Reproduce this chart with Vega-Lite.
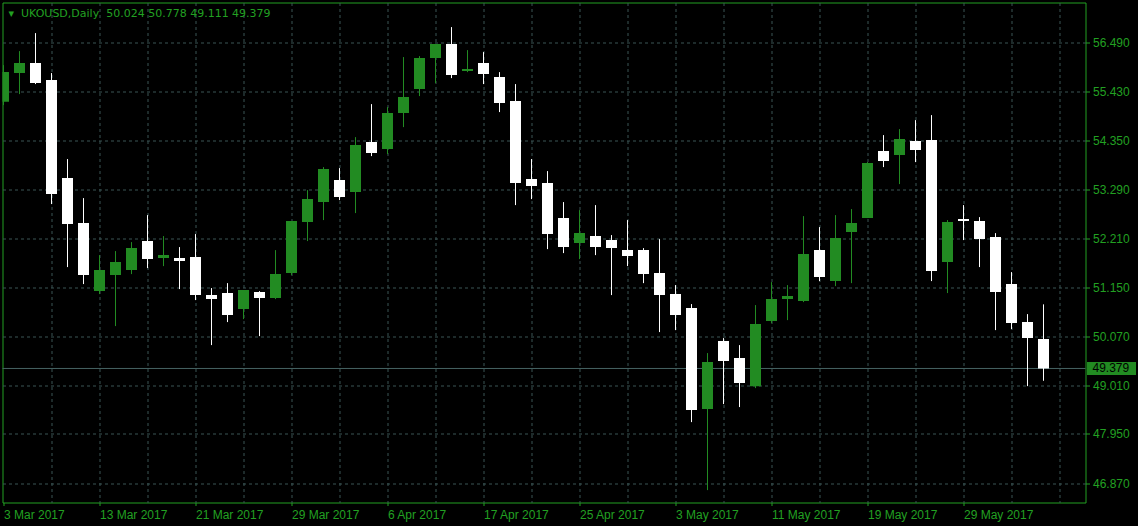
{
  "$schema": "https://vega.github.io/schema/vega-lite/v6.json",
  "width": 1083,
  "height": 500,
  "autosize": {"type": "none"},
  "padding": {"left": 2.5, "top": 2.5, "right": 52.5, "bottom": 23.5},
  "background": "#000000",
  "title": {
    "text": "▾\u00a0\u00a0UKOUSD,Daily\u00a0\u00a050.024\u00a050.778\u00a049.111\u00a049.379",
    "anchor": "start",
    "frame": "group",
    "orient": "top",
    "offset": -16,
    "baseline": "top",
    "dx": 6,
    "font": "DejaVu Sans",
    "fontSize": 11,
    "fontWeight": "normal",
    "color": "#22A022"
  },
  "config": {
    "view": {"stroke": "#22A022", "strokeWidth": 1, "fill": "#000000"}
  },
  "datasets": {
    "candles": [
      {"date": "2017-03-03", "open": 55.196, "high": 55.997, "low": 55.124, "close": 55.844},
      {"date": "2017-03-06", "open": 55.823, "high": 56.302, "low": 55.364, "close": 56.041},
      {"date": "2017-03-07", "open": 56.041, "high": 56.695, "low": 55.583, "close": 55.604},
      {"date": "2017-03-08", "open": 55.670, "high": 55.823, "low": 52.965, "close": 53.183},
      {"date": "2017-03-09", "open": 53.532, "high": 53.947, "low": 51.591, "close": 52.529},
      {"date": "2017-03-10", "open": 52.550, "high": 53.096, "low": 51.220, "close": 51.416},
      {"date": "2017-03-13", "open": 51.067, "high": 51.852, "low": 51.002, "close": 51.525},
      {"date": "2017-03-14", "open": 51.416, "high": 51.940, "low": 50.304, "close": 51.700},
      {"date": "2017-03-15", "open": 51.525, "high": 52.136, "low": 51.438, "close": 52.005},
      {"date": "2017-03-16", "open": 52.158, "high": 52.725, "low": 51.569, "close": 51.765},
      {"date": "2017-03-17", "open": 51.787, "high": 52.267, "low": 51.612, "close": 51.852},
      {"date": "2017-03-20", "open": 51.787, "high": 52.027, "low": 51.111, "close": 51.721},
      {"date": "2017-03-21", "open": 51.809, "high": 52.311, "low": 50.871, "close": 50.980},
      {"date": "2017-03-22", "open": 50.980, "high": 51.133, "low": 49.889, "close": 50.893},
      {"date": "2017-03-23", "open": 51.024, "high": 51.241, "low": 50.391, "close": 50.543},
      {"date": "2017-03-24", "open": 50.674, "high": 51.089, "low": 50.456, "close": 51.089},
      {"date": "2017-03-27", "open": 51.045, "high": 51.067, "low": 50.085, "close": 50.914},
      {"date": "2017-03-28", "open": 50.914, "high": 51.961, "low": 50.893, "close": 51.438},
      {"date": "2017-03-29", "open": 51.460, "high": 52.594, "low": 51.416, "close": 52.594},
      {"date": "2017-03-30", "open": 52.572, "high": 53.270, "low": 52.158, "close": 53.074},
      {"date": "2017-03-31", "open": 53.009, "high": 53.772, "low": 52.616, "close": 53.728},
      {"date": "2017-04-03", "open": 53.488, "high": 53.750, "low": 53.052, "close": 53.118},
      {"date": "2017-04-04", "open": 53.227, "high": 54.426, "low": 52.769, "close": 54.252},
      {"date": "2017-04-05", "open": 54.317, "high": 55.146, "low": 54.012, "close": 54.077},
      {"date": "2017-04-06", "open": 54.165, "high": 55.081, "low": 54.056, "close": 54.950},
      {"date": "2017-04-07", "open": 54.950, "high": 56.172, "low": 54.644, "close": 55.299},
      {"date": "2017-04-10", "open": 55.473, "high": 56.193, "low": 55.321, "close": 56.150},
      {"date": "2017-04-11", "open": 56.150, "high": 56.455, "low": 55.604, "close": 56.455},
      {"date": "2017-04-12", "open": 56.455, "high": 56.826, "low": 55.713, "close": 55.779},
      {"date": "2017-04-13", "open": 55.866, "high": 56.324, "low": 55.844, "close": 55.910},
      {"date": "2017-04-17", "open": 56.041, "high": 56.281, "low": 55.583, "close": 55.801},
      {"date": "2017-04-18", "open": 55.735, "high": 55.844, "low": 54.972, "close": 55.168},
      {"date": "2017-04-19", "open": 55.212, "high": 55.583, "low": 52.943, "close": 53.423},
      {"date": "2017-04-20", "open": 53.510, "high": 53.947, "low": 53.074, "close": 53.357},
      {"date": "2017-04-21", "open": 53.423, "high": 53.685, "low": 51.983, "close": 52.310},
      {"date": "2017-04-24", "open": 52.660, "high": 53.009, "low": 51.896, "close": 52.027},
      {"date": "2017-04-25", "open": 52.114, "high": 52.834, "low": 51.765, "close": 52.332},
      {"date": "2017-04-26", "open": 52.267, "high": 52.943, "low": 51.852, "close": 52.027},
      {"date": "2017-04-27", "open": 52.180, "high": 52.289, "low": 50.980, "close": 52.005},
      {"date": "2017-04-28", "open": 51.961, "high": 52.616, "low": 51.612, "close": 51.830},
      {"date": "2017-05-01", "open": 51.961, "high": 52.005, "low": 51.241, "close": 51.438},
      {"date": "2017-05-02", "open": 51.460, "high": 52.201, "low": 50.173, "close": 50.980},
      {"date": "2017-05-03", "open": 51.002, "high": 51.198, "low": 50.216, "close": 50.543},
      {"date": "2017-05-04", "open": 50.696, "high": 50.784, "low": 48.209, "close": 48.471},
      {"date": "2017-05-05", "open": 48.493, "high": 49.715, "low": 46.726, "close": 49.518},
      {"date": "2017-05-08", "open": 49.976, "high": 50.042, "low": 48.602, "close": 49.540},
      {"date": "2017-05-09", "open": 49.606, "high": 49.889, "low": 48.537, "close": 49.061},
      {"date": "2017-05-10", "open": 48.994, "high": 50.762, "low": 48.951, "close": 50.347},
      {"date": "2017-05-11", "open": 50.413, "high": 51.263, "low": 50.369, "close": 50.893},
      {"date": "2017-05-12", "open": 50.893, "high": 51.198, "low": 50.434, "close": 50.958},
      {"date": "2017-05-15", "open": 50.849, "high": 52.703, "low": 50.827, "close": 51.874},
      {"date": "2017-05-16", "open": 51.961, "high": 52.463, "low": 51.285, "close": 51.373},
      {"date": "2017-05-17", "open": 51.285, "high": 52.725, "low": 51.176, "close": 52.223},
      {"date": "2017-05-18", "open": 52.354, "high": 52.856, "low": 51.241, "close": 52.550},
      {"date": "2017-05-19", "open": 52.660, "high": 53.881, "low": 52.660, "close": 53.859},
      {"date": "2017-05-22", "open": 54.121, "high": 54.470, "low": 53.772, "close": 53.903},
      {"date": "2017-05-23", "open": 54.034, "high": 54.601, "low": 53.401, "close": 54.383},
      {"date": "2017-05-24", "open": 54.339, "high": 54.797, "low": 53.881, "close": 54.143},
      {"date": "2017-05-25", "open": 54.361, "high": 54.906, "low": 51.285, "close": 51.503},
      {"date": "2017-05-26", "open": 51.700, "high": 52.616, "low": 51.024, "close": 52.572},
      {"date": "2017-05-29", "open": 52.638, "high": 52.943, "low": 52.180, "close": 52.594},
      {"date": "2017-05-30", "open": 52.594, "high": 52.681, "low": 51.591, "close": 52.201},
      {"date": "2017-05-31", "open": 52.245, "high": 52.332, "low": 50.216, "close": 51.045},
      {"date": "2017-06-01", "open": 51.220, "high": 51.481, "low": 50.238, "close": 50.369},
      {"date": "2017-06-02", "open": 50.391, "high": 50.565, "low": 48.994, "close": 50.042},
      {"date": "2017-06-05", "open": 50.024, "high": 50.778, "low": 49.111, "close": 49.379}
    ],
    "lastprice": [{"last": 49.379}]
  },
  "layer": [
    {
      "data": {"name": "lastprice"},
      "mark": {"type": "rule", "color": "#456262", "strokeWidth": 1},
      "encoding": {
        "y": {"field": "last", "type": "quantitative", "title": null}
      }
    },
    {
      "data": {"name": "candles"},
      "mark": {"type": "rule", "clip": true, "strokeWidth": 1},
      "encoding": {
        "x": {
          "field": "date",
          "type": "ordinal",
          "sort": null,
          "title": null,
          "scale": {
            "type": "point",
            "domain": ["2017-03-03","2017-03-06","2017-03-07","2017-03-08","2017-03-09","2017-03-10","2017-03-13","2017-03-14","2017-03-15","2017-03-16","2017-03-17","2017-03-20","2017-03-21","2017-03-22","2017-03-23","2017-03-24","2017-03-27","2017-03-28","2017-03-29","2017-03-30","2017-03-31","2017-04-03","2017-04-04","2017-04-05","2017-04-06","2017-04-07","2017-04-10","2017-04-11","2017-04-12","2017-04-13","2017-04-17","2017-04-18","2017-04-19","2017-04-20","2017-04-21","2017-04-24","2017-04-25","2017-04-26","2017-04-27","2017-04-28","2017-05-01","2017-05-02","2017-05-03","2017-05-04","2017-05-05","2017-05-08","2017-05-09","2017-05-10","2017-05-11","2017-05-12","2017-05-15","2017-05-16","2017-05-17","2017-05-18","2017-05-19","2017-05-22","2017-05-23","2017-05-24","2017-05-25","2017-05-26","2017-05-29","2017-05-30","2017-05-31","2017-06-01","2017-06-02","2017-06-05","2017-06-06"],
            "padding": 0.84375,
            "align": 0.037037
          },
          "axis": {
            "orient": "bottom",
            "values": ["2017-03-03","2017-03-08","2017-03-13","2017-03-16","2017-03-21","2017-03-24","2017-03-29","2017-04-03","2017-04-06","2017-04-11","2017-04-17","2017-04-20","2017-04-25","2017-04-28","2017-05-03","2017-05-08","2017-05-11","2017-05-16","2017-05-19","2017-05-24","2017-05-29","2017-06-01","2017-06-06"],
            "grid": true,
            "gridColor": "#3B5555",
            "gridDash": [3, 3],
            "gridWidth": 1,
            "gridOpacity": {"condition": {"test": "datum.value === '2017-03-03'", "value": 0}, "value": 1},
            "domain": false,
            "ticks": true,
            "tickColor": "#22A022",
            "tickSize": 3,
            "tickOpacity": {"condition": {"test": "indexof(['2017-03-03','2017-03-13','2017-03-21','2017-03-29','2017-04-06','2017-04-17','2017-04-25','2017-05-03','2017-05-11','2017-05-19','2017-05-29'], datum.value) >= 0", "value": 1}, "value": 0},
            "labelExpr": "indexof(['2017-03-03','2017-03-13','2017-03-21','2017-03-29','2017-04-06','2017-04-17','2017-04-25','2017-05-03','2017-05-11','2017-05-19','2017-05-29'], datum.value) >= 0 ? utcFormat(toDate(datum.value), '%-d %b %Y') : ''",
            "labelAlign": "left",
            "labelBaseline": "top",
            "labelPadding": 3.5,
            "labelAngle": 0,
            "labelColor": "#22A022",
            "labelFont": "Liberation Sans",
            "labelFontSize": 12,
            "labelOverlap": false,
            "labelBound": false,
            "labelFlush": false
          }
        },
        "y": {
          "field": "low",
          "type": "quantitative",
          "title": null,
          "scale": {"domain": [46.45556, 57.36256], "zero": false, "nice": false},
          "axis": {
            "orient": "right",
            "values": [56.49, 55.43, 54.35, 53.29, 52.21, 51.15, 50.07, 49.01, 47.95, 46.87],
            "format": ".3f",
            "grid": true,
            "gridColor": "#3B5555",
            "gridDash": [3, 3],
            "gridWidth": 1,
            "domain": false,
            "ticks": true,
            "tickColor": "#22A022",
            "tickSize": 4,
            "labelColor": "#22A022",
            "labelFont": "Liberation Sans",
            "labelFontSize": 12,
            "labelPadding": 3,
            "labelAlign": "left",
            "labelBaseline": "middle",
            "labelOverlap": false,
            "labelBound": false,
            "labelFlush": false
          }
        },
        "y2": {"field": "high"},
        "color": {"condition": {"test": "datum.close > datum.open", "value": "#228B22"}, "value": "#FFFFFF"}
      }
    },
    {
      "data": {"name": "candles"},
      "mark": {"type": "bar", "size": 11, "clip": true},
      "encoding": {
        "x": {"field": "date", "type": "ordinal", "sort": null, "title": null},
        "y": {"field": "open", "type": "quantitative", "title": null},
        "y2": {"field": "close"},
        "color": {"condition": {"test": "datum.close > datum.open", "value": "#228B22"}, "value": "#FFFFFF"}
      }
    },
    {
      "data": {"name": "lastprice"},
      "mark": {"type": "point", "shape": "M-1,-0.2653H1V0.2653H-1Z", "size": 2401, "filled": true, "opacity": 1, "strokeWidth": 0, "xOffset": 26},
      "encoding": {
        "x": {"value": "width"},
        "y": {"field": "last", "type": "quantitative", "title": null},
        "color": {"value": "#228B22"}
      }
    },
    {
      "data": {"name": "lastprice"},
      "mark": {"type": "text", "align": "left", "baseline": "middle", "dx": 7, "font": "Liberation Sans", "fontSize": 12},
      "encoding": {
        "x": {"value": "width"},
        "y": {"field": "last", "type": "quantitative", "title": null},
        "text": {"field": "last", "type": "quantitative", "format": ".3f"},
        "color": {"value": "#000000"}
      }
    }
  ]
}
